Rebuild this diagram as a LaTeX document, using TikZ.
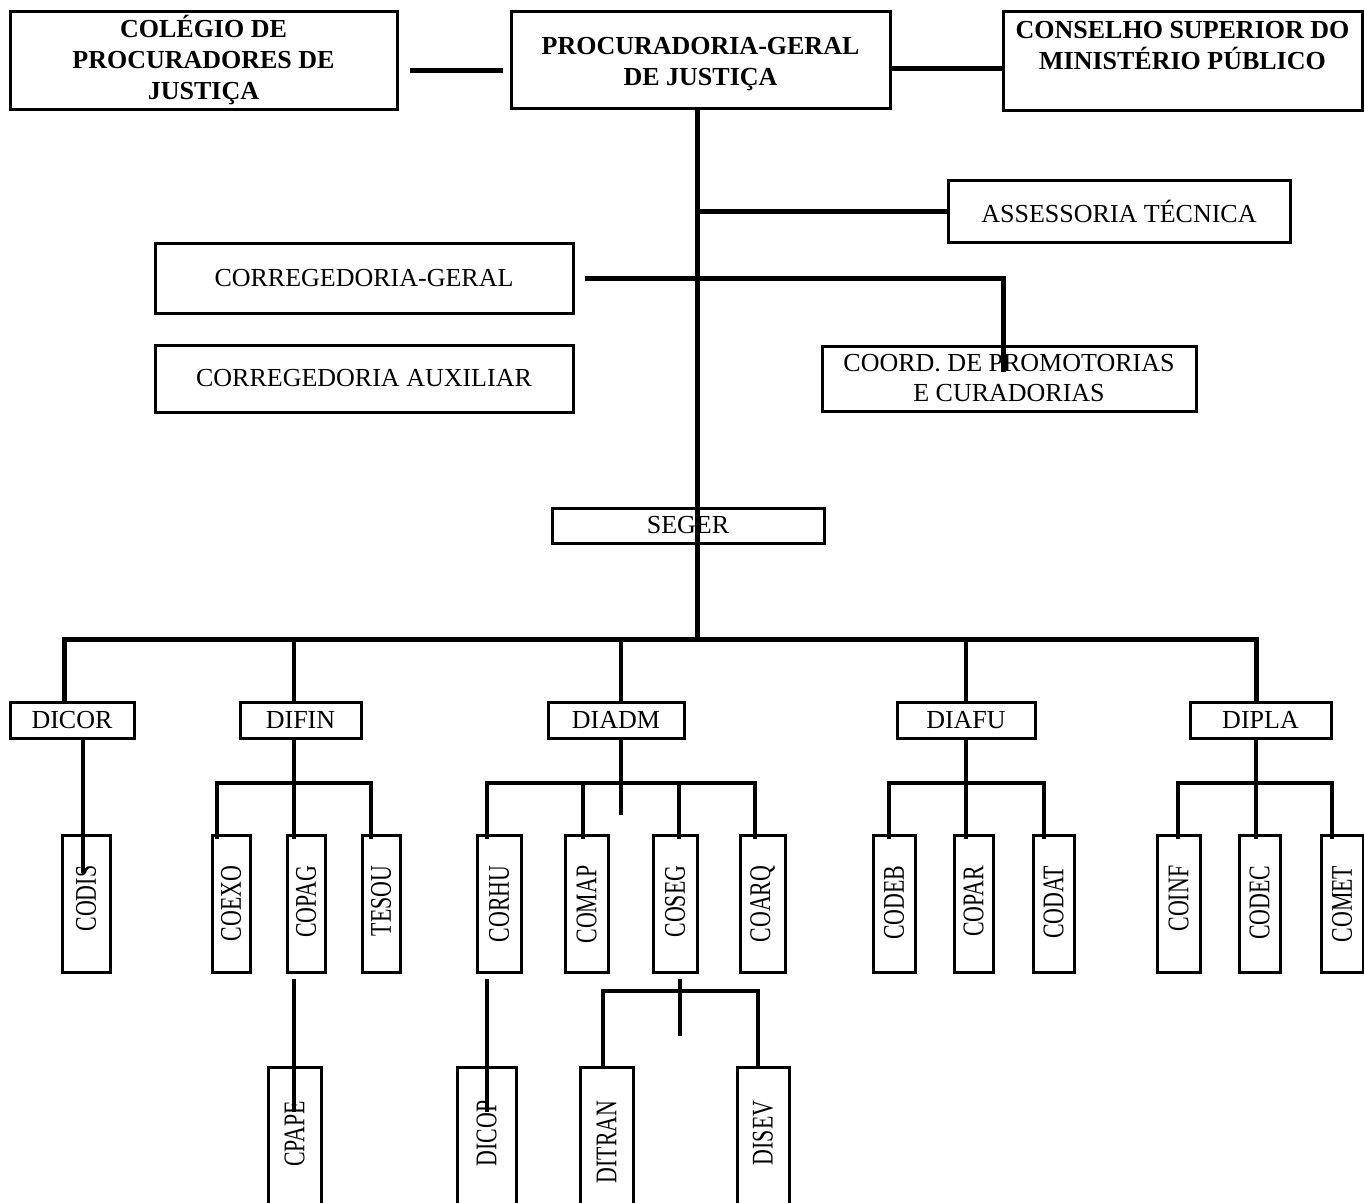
\documentclass[tikz,border=0pt]{standalone}
\usepackage{fontspec}
\setmainfont{Liberation Serif}
\usepackage{graphicx}
\newcommand\vtxtbox[1]{\scalebox{0.73}[1]{#1}}
\begin{document}
\begin{tikzpicture}[x=1pt,y=-1pt,
  box/.style={draw, line width=3pt, inner sep=0pt, align=center, font=\fontsize{26}{31}\selectfont},
  bbox/.style={box, font=\fontsize{26}{31}\selectfont\bfseries},
  vbox/.style={draw, line width=3pt, inner sep=0pt},
  vtxt/.style={rotate=90, anchor=east, inner sep=0pt, font=\fontsize{30}{30}\selectfont},
  conn/.style={line width=4.5pt, line join=miter},
  tconn/.style={line width=5pt, line join=miter}]
\useasboundingbox (0,0) rectangle (1364,1202);
\fill[white] (0,0) rectangle (1364,1202);
\clip (0,0) rectangle (1364,1202);

% top row
\node[bbox, minimum width=387pt, minimum height=98pt] (colegio) at (203.5,60) {COLÉGIO DE\\PROCURADORES DE\\JUSTIÇA};
\node[bbox, minimum width=379pt, minimum height=97pt] (pgj) at (700.5,59.5) {};
\node[align=center, inner sep=0pt, font=\fontsize{26}{31}\selectfont\bfseries] (pgjt) at (700.5,64) {PROCURADORIA-GERAL\\DE JUSTIÇA};
\node[bbox, minimum width=359pt, minimum height=99pt] (cons) at (1182.5,60.5) {};
\node[align=center, inner sep=0pt, font=\fontsize{26}{31}\selectfont\bfseries] (const) at (1182.5,46) {CONSELHO SUPERIOR DO\\MINISTÉRIO PÚBLICO};

% staff
\node[box, minimum width=342pt, minimum height=62pt] (asse) at (1119,211) {ASSESSORIA TÉCNICA};
\node[box, minimum width=418pt, minimum height=70pt] (cg) at (364,278) {CORREGEDORIA-GERAL};
\node[box, minimum width=418pt, minimum height=67pt] (ca) at (364,378.5) {CORREGEDORIA AUXILIAR};
\node[box, minimum width=374pt, minimum height=65pt, font=\fontsize{26}{30}\selectfont] (coord) at (1009,378.5) {COORD. DE PROMOTORIAS\\E CURADORIAS};
\node[box, minimum width=272pt, minimum height=35pt] (seger) at (688,525.5) {SEGER};

% directorates
\node[box, minimum width=124pt, minimum height=36pt] (dicor) at (72,720) {DICOR};
\node[box, minimum width=121pt, minimum height=36pt] (difin) at (300.5,720) {DIFIN};
\node[box, minimum width=136pt, minimum height=36pt] (diadm) at (616,720) {DIADM};
\node[box, minimum width=138pt, minimum height=36pt] (diafu) at (966,720) {DIAFU};
\node[box, minimum width=141pt, minimum height=36pt] (dipla) at (1260.5,720) {DIPLA};

% vertical boxes, row 1
\foreach \n/\x/\w/\t in {codis/86/48/CODIS, coexo/231/38/COEXO, copag/306/38/COPAG, tesou/381/38/TESOU,
  corhu/499/44/CORHU, comap/586.5/43/COMAP, coseg/675/44/COSEG, coarq/762.5/45/COARQ,
  codeb/894/42/CODEB, copar/973.5/39/COPAR, codat/1053.5/41/CODAT,
  coinf/1178.5/43/COINF, codec/1259.5/41/CODEC, comet/1342/42/COMET}{
  \node[vbox, minimum width=\w pt, minimum height=137pt] (\n) at (\x,903.5) {};
  \node[vtxt] (\n-t) at ([yshift=-32pt]\n.north) {\vtxtbox{\t}};
}
% vertical boxes, row 2
\foreach \n/\x/\w/\t in {cpape/294.5/53/CPAPE, dicop/486.5/59/DICOP, ditran/606.5/53/DITRAN, disev/763/52/DISEV}{
  \node[vbox, minimum width=\w pt, minimum height=143pt] (\n) at (\x,1138.5) {};
  \node[vtxt] (\n-t) at ([yshift=-35pt]\n.north) {\vtxtbox{\t}};
}

% top connectors
\coordinate (c1a) at (410,70);
\coordinate (c2a) at (892,68);
\draw[tconn, shorten >=7pt] (c1a) -- (c1a -| pgj.west);
\draw[tconn] (c2a) -- (c2a -| cons.west);
\coordinate (t0) at (697,107);
\coordinate (tb) at (697,639);
\draw[tconn] (t0) -- (tb);
\draw[tconn] (t0 |- asse.west) -- (asse.west);
\coordinate (cgend) at (1003,372);
\draw[tconn] ([xshift=10pt]cg.east) -| (cgend);

% main bus
\coordinate (bL) at (64,639);
\coordinate (bR) at (1256,639);
\draw[tconn] (dicor.north -| bL) -- (bL) -- (bR) -- (dipla.north -| bR);
\draw[conn] (bL -| 294,0) -- (difin.north -| 294,0);
\draw[conn] (bL -| 621,0) -- (diadm.north -| 621,0);
\draw[conn] (bL -| diafu.north) -- (diafu.north);

% DICOR
\draw[conn] (dicor.south -| 83,0) -- (83,873);
% DIFIN
\draw[conn] (difin.south -| 294,0) -- (294,839);
\draw[conn] (217,839) |- (371,783) -- (371,839);
% DIADM
\draw[conn] (diadm.south -| 621,0) -- (621,815);
\draw[conn] (487,839) |- (755,783) -- (755,839);
\draw[conn] (583,783) -- (583,839);
\draw[conn] (679,783) -- (679,839);
% DIAFU
\draw[conn] (diafu.south) -- (966,839);
\draw[conn] (889,839) |- (1044,783) -- (1044,839);
% DIPLA
\draw[conn] (dipla.south -| 1256,0) -- (1256,839);
\draw[conn] (1178,839) |- (1332,783) -- (1332,839);

% lower level
\draw[conn] (294,979) -- (294,1112);
\draw[conn] (487,979) -- (487,1112);
\draw[conn] (680,979) -- (680,1036);
\draw[conn] (603,1068) |- (758,991) -- (758,1068);
\end{tikzpicture}
\end{document}
